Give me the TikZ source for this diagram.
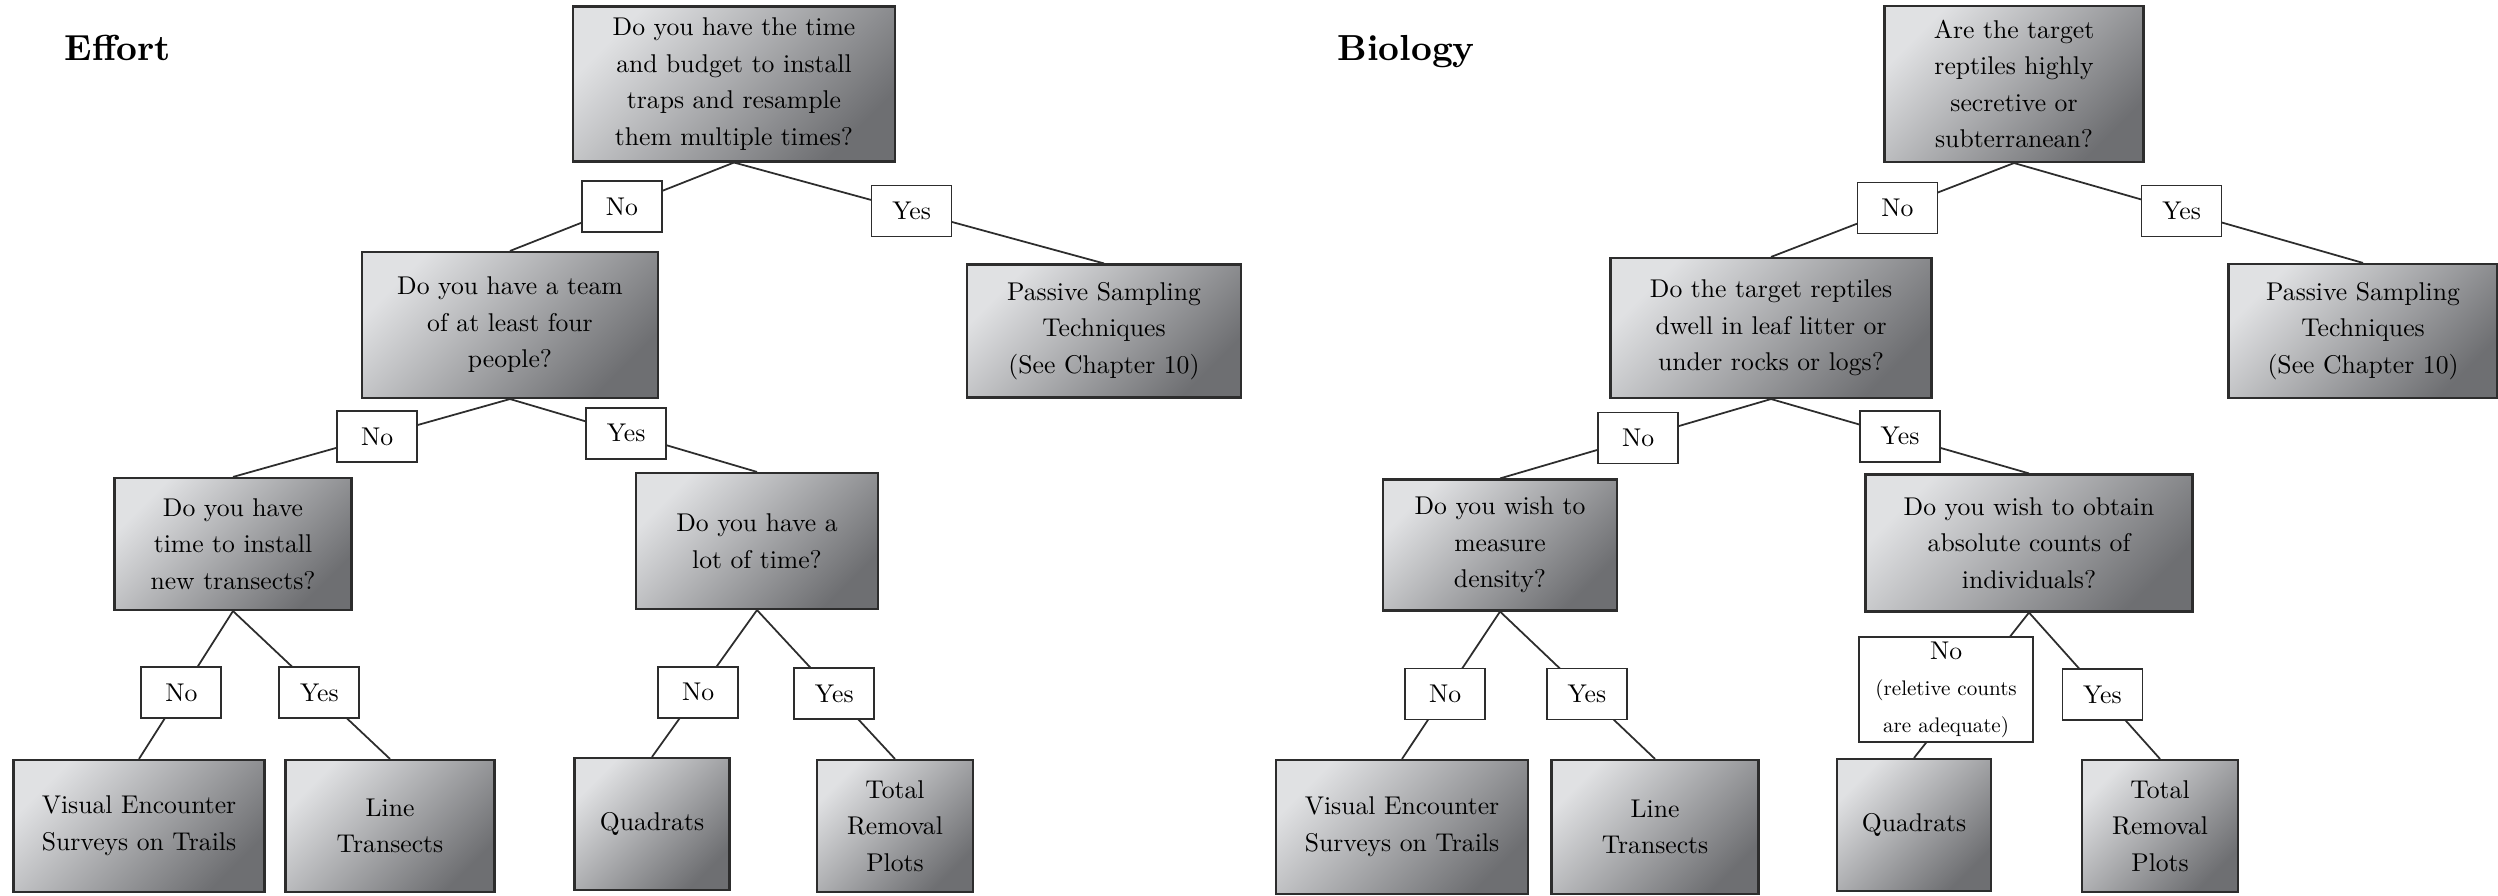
\documentclass[tikz,border=0pt]{standalone}
\usepackage{fontspec}
\setmainfont{lmroman10-regular.otf}[BoldFont=lmroman10-bold.otf]
\usepackage{tikz}
\usetikzlibrary{positioning,calc}
\usepackage{xcolor}
\definecolor{boxlight}{RGB}{224,225,227}
\definecolor{boxdark}{RGB}{110,111,114}
\definecolor{edgegray}{RGB}{45,45,45}
\newcommand{\notesize}{\fontsize{6}{6.8}\selectfont}

\begin{document}
\begin{tikzpicture}[
  every node/.style={font=\fontsize{7.3}{10.4}\selectfont},
  ques/.style={draw=edgegray,line width=0.6pt,align=center,inner sep=2pt,
               top color=boxlight,bottom color=boxdark,shading angle=45},
  ans/.style={draw=edgegray,line width=0.5pt,fill=white,align=center,
              minimum width=0.8cm,minimum height=0.51cm,inner sep=1pt},
  ttl/.style={font=\fontsize{10.3}{13}\selectfont\bfseries,anchor=base west,inner sep=0pt},
  link/.style={draw=edgegray,line width=0.5pt}
]
\useasboundingbox (0,0) rectangle (24.98,-8.96);

% effort tree
\node[ttl] (effort) at (0.64,-0.61) {Effort};

\node[ques,minimum width=3.22cm,minimum height=1.55cm] (q1) at (7.34,-0.84)
  {Do you have the time\\and budget to install\\traps and resample\\them multiple times?};
\node[ques,minimum width=2.96cm,minimum height=1.46cm] (q2) at (5.10,-3.25)
  {Do you have a team\\of at least four\\people?};
\node[ques,minimum width=2.74cm,minimum height=1.33cm] (pas1) at (11.04,-3.31)
  {Passive Sampling\\Techniques\\(See Chapter 10)};
\node[ques,minimum width=2.37cm,minimum height=1.32cm] (q3) at (2.33,-5.44)
  {Do you have\\time to install\\new transects?};
\node[ques,minimum width=2.42cm,minimum height=1.36cm] (q4) at (7.57,-5.41)
  {Do you have a\\lot of time?};
\node[ques,minimum width=2.51cm,minimum height=1.32cm] (ves1) at (1.39,-8.26)
  {Visual Encounter\\Surveys on Trails};
\node[ques,minimum width=2.09cm,minimum height=1.32cm] (line1) at (3.90,-8.26)
  {Line\\Transects};
\node[ques,minimum width=1.55cm,minimum height=1.32cm] (quad1) at (6.52,-8.24)
  {Quadrats};
\node[ques,minimum width=1.56cm,minimum height=1.32cm] (tot1) at (8.95,-8.26)
  {Total\\Removal\\Plots};

\draw[link] (q1.south) -- node[ans,pos=.5] {No} (q2.north);
\draw[link] (q1.south) -- node[ans,pos=.48] {Yes} (pas1.north);
\draw[link] (q2.south) -- node[ans,pos=.48] {No} (q3.north);
\draw[link] (q2.south) -- node[ans,pos=.47] {Yes} (q4.north);
\draw[link] (q3.south) -- node[ans,pos=.55] {No} (ves1.north);
\draw[link] (q3.south) -- node[ans,pos=.55] {Yes} (line1.north);
\draw[link] (q4.south) -- node[ans,pos=.56] {No} (quad1.north);
\draw[link] (q4.south) -- node[ans,pos=.56] {Yes} (tot1.north);

% biology tree
\node[ttl] (biology) at (13.37,-0.61) {Biology};

\node[ques,minimum width=2.59cm,minimum height=1.56cm] (r1) at (20.14,-0.84)
  {Are the target\\reptiles highly\\secretive or\\subterranean?};
\node[ques,minimum width=3.21cm,minimum height=1.40cm] (r2) at (17.71,-3.28)
  {Do the target reptiles\\dwell in leaf litter or\\under rocks or logs?};
\node[ques,minimum width=2.69cm,minimum height=1.34cm] (pas2) at (23.63,-3.31)
  {Passive Sampling\\Techniques\\(See Chapter 10)};
\node[ques,minimum width=2.34cm,minimum height=1.31cm] (r3) at (15.00,-5.45)
  {Do you wish to\\measure\\density?};
\node[ques,minimum width=3.27cm,minimum height=1.37cm] (r4) at (20.29,-5.43)
  {Do you wish to obtain\\absolute counts of\\individuals?};
\node[ques,minimum width=2.52cm,minimum height=1.34cm] (ves2) at (14.02,-8.27)
  {Visual Encounter\\Surveys on Trails};
\node[ques,minimum width=2.07cm,minimum height=1.34cm] (line2) at (16.55,-8.27)
  {Line\\Transects};
\node[ques,minimum width=1.54cm,minimum height=1.32cm] (quad2) at (19.14,-8.25)
  {Quadrats};
\node[ques,minimum width=1.56cm,minimum height=1.32cm] (tot2) at (21.60,-8.26)
  {Total\\Removal\\Plots};

\draw[link] (r1.south) -- node[ans,pos=.48] {No} (r2.north);
\draw[link] (r1.south) -- node[ans,pos=.48] {Yes} (pas2.north);
\draw[link] (r2.south) -- node[ans,pos=.49] {No} (r3.north);
\draw[link] (r2.south) -- node[ans,pos=.5] {Yes} (r4.north);
\draw[link] (r3.south) -- node[ans,pos=.56] {No} (ves2.north);
\draw[link] (r3.south) -- node[ans,pos=.56] {Yes} (line2.north);
\draw[link] (r4.south) -- node[ans,pos=.53,xshift=-0.22cm,minimum width=1.74cm,minimum height=1.05cm]
  {No\\\notesize(reletive counts\\\notesize are adequate)} (quad2.north);
\draw[link] (r4.south) -- node[ans,pos=.56] {Yes} (tot2.north);

\end{tikzpicture}
\end{document}
